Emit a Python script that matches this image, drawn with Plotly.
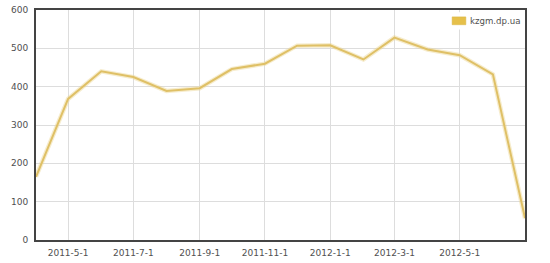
import plotly.graph_objects as go

dates = ["2011-04-01", "2011-05-01", "2011-06-01", "2011-07-01", "2011-08-01",
         "2011-09-01", "2011-10-01", "2011-11-01", "2011-12-01", "2012-01-01",
         "2012-02-01", "2012-03-01", "2012-04-01", "2012-05-01", "2012-06-01",
         "2012-07-01"]
visits = [165, 368, 440, 425, 389, 396, 446, 460, 507, 508, 471, 528, 497, 482, 432, 57]
series_name = "kzgm.dp.ua"
x_tick_vals = ["2011-05-01", "2011-07-01", "2011-09-01", "2011-11-01",
               "2012-01-01", "2012-03-01", "2012-05-01"]
x_tick_text = ["2011-5-1", "2011-7-1", "2011-9-1", "2011-11-1",
               "2012-1-1", "2012-3-1", "2012-5-1"]
y_ticks = [0, 100, 200, 300, 400, 500, 600]

fig = go.Figure()
fig.add_trace(go.Scatter(x=dates, y=visits, mode="lines",
                         line=dict(color="rgba(234,212,145,0.45)", width=4.5),
                         hoverinfo="skip", showlegend=False))
fig.add_trace(go.Scatter(x=dates, y=visits, mode="lines", name=series_name,
                         line=dict(color="#dfc066", width=2),
                         showlegend=False))

font = dict(family="DejaVu Sans, Verdana, sans-serif", size=9, color="#505050")

fig.update_layout(
    width=550, height=263,
    margin=dict(l=36, r=25, t=5, b=23),
    paper_bgcolor="white", plot_bgcolor="white",
    font=font,
    xaxis=dict(
        type="date", range=[dates[0], dates[-1]],
        tickvals=x_tick_vals, ticktext=x_tick_text,
        showgrid=True, gridcolor="#dddddd", gridwidth=1,
        showline=True, linecolor="#444444", linewidth=2, mirror=True,
        ticks="outside", ticklen=3, tickcolor="rgba(0,0,0,0)",
        zeroline=False, tickfont=font,
    ),
    yaxis=dict(
        range=[0, 600], tickvals=y_ticks,
        showgrid=True, gridcolor="#dddddd", gridwidth=1,
        showline=True, linecolor="#444444", linewidth=2, mirror=True,
        ticks="outside", ticklen=4, tickcolor="rgba(0,0,0,0)",
        zeroline=False, tickfont=font,
    ),
    shapes=[dict(type="rect", xref="paper", yref="paper",
                 x0=0.84, x1=0.986, y0=0.915, y1=0.99,
                 fillcolor="white", line=dict(width=0), layer="above"),
            dict(type="rect", xref="paper", yref="paper",
                 x0=0.851, x1=0.879, y0=0.936, y1=0.970,
                 fillcolor="#e6c04a", line=dict(color="#d8b440", width=0.5),
                 layer="above")],
    annotations=[dict(text=series_name, xref="paper", yref="paper",
                      x=0.884, y=0.953, xanchor="left", yanchor="middle",
                      showarrow=False, font=dict(family="DejaVu Sans, Verdana, sans-serif",
                                                 size=8.6, color="#505050"))],
)

fig.write_html("out.html")
